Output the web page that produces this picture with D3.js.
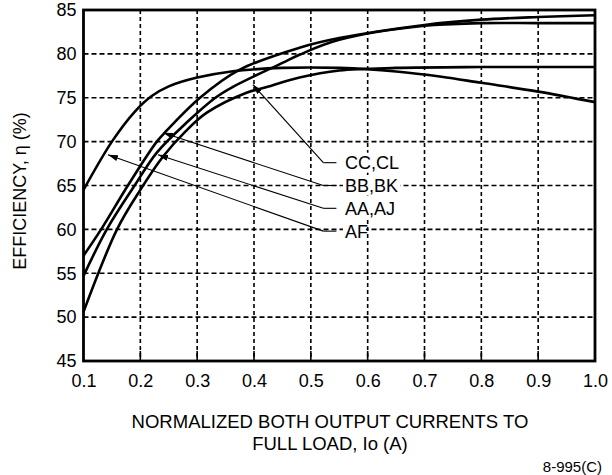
<!DOCTYPE html>
<html><head><meta charset="utf-8">
<script src="https://cdn.jsdelivr.net/npm/d3@7"></script>
<style>
html,body{margin:0;padding:0;background:#fff;}
svg{display:block;}
text{font-family:"Liberation Sans",Arial,Helvetica,sans-serif;fill:#000;}
</style></head><body>
<svg id="chart" width="612" height="475"></svg>
<script>
// ---- data ----
const xTickValues = [0.1,0.2,0.3,0.4,0.5,0.6,0.7,0.8,0.9,1.0];
const xTickLabels = ["0.1","0.2","0.3","0.4","0.5","0.6","0.7","0.8","0.9","1.0"];
const yTickValues = [45,50,55,60,65,70,75,80,85];
const yTickLabels = ["45","50","55","60","65","70","75","80","85"];

const curveAF = [[0.1,64.5],[0.15,70],[0.19,73.4],[0.22,75.2],[0.25,76.3],[0.3,77.3],[0.36,78],[0.45,78.4],[0.55,78.4],[0.65,78.0],[0.73,77.4],[0.8,76.7],[0.9,75.7],[1.0,74.5]];
const curveBB = [[0.1,57],[0.131,60],[0.18,65.2],[0.229,70],[0.247,71.3],[0.305,75],[0.375,78.2],[0.48,80.7],[0.55,81.8],[0.7,83.3],[0.8,83.9],[0.9,84.2],[1.0,84.4]];
const curveAA = [[0.1,54.7],[0.141,60],[0.19,65],[0.229,68.75],[0.282,72.2],[0.332,75],[0.363,76.25],[0.451,79],[0.48,79.9],[0.55,81.6],[0.7,83.2],[0.8,83.5],[0.9,83.5],[1.0,83.5]];
const curveCC = [[0.1,50.6],[0.159,60],[0.2,64.5],[0.24,68.3],[0.28,71.2],[0.317,73.3],[0.388,75.6],[0.416,76.1],[0.48,77.3],[0.55,78.1],[0.65,78.4],[0.8,78.5],[1.0,78.5]];

const labelNames   = ["CC,CL","BB,BK","AA,AJ","AF"];
const labelLevels  = [67.6, 65.0, 62.4, 59.8];          // y value of each label
const arrowTargets = [[0.398,76.5],[0.24,71],[0.231,68.5],[0.143,68.5]];
const elbowX = 0.522, elbowEndX = 0.545, labelX = 0.56;

// ---- layout ----
const svg = d3.select("#chart");
const L = 83.5, R = 595, T = 10, B = 361;
const x = d3.scaleLinear().domain([0.1,1.0]).range([L,R]);
const y = d3.scaleLinear().domain([45,85]).range([B,T]);
const FONT = "'Liberation Sans',Arial,sans-serif";

svg.append("defs").append("marker")
  .attr("id","arr").attr("viewBox","0 0 10 6").attr("refX",10).attr("refY",3)
  .attr("markerWidth",10).attr("markerHeight",6).attr("markerUnits","userSpaceOnUse")
  .attr("orient","auto")
  .append("path").attr("d","M0,0 L10,3 L0,6 Z").attr("fill","#000");

// grid
const g = svg.append("g");
g.selectAll(".vg").data(xTickValues.slice(1,-1)).enter().append("line")
  .attr("x1",d=>x(d)).attr("x2",d=>x(d)).attr("y1",T).attr("y2",B)
  .attr("stroke","#000").attr("stroke-width",1.6).attr("stroke-dasharray","4,3");
g.selectAll(".hg").data(yTickValues.slice(1,-1)).enter().append("line")
  .attr("x1",L).attr("x2",R).attr("y1",d=>y(d)).attr("y2",d=>y(d))
  .attr("stroke","#000").attr("stroke-width",1.6).attr("stroke-dasharray","5,3");
// inner ticks at bottom
g.selectAll(".bt").data(xTickValues.slice(1,-1)).enter().append("line")
  .attr("x1",d=>x(d)).attr("x2",d=>x(d)).attr("y1",B).attr("y2",B-10)
  .attr("stroke","#000").attr("stroke-width",1.6);

// axes (labels only)
const xAxis = d3.axisBottom(x).tickValues(xTickValues).tickFormat((d,i)=>xTickLabels[i]).tickSize(0).tickPadding(13);
const ax = svg.append("g").attr("transform",`translate(0,${B})`).call(xAxis);
ax.select(".domain").remove();
ax.selectAll("text").attr("font-size",18).style("font-family",FONT);
const yAxis = d3.axisLeft(y).tickValues(yTickValues).tickFormat((d,i)=>yTickLabels[i]).tickSize(0).tickPadding(7);
const ay = svg.append("g").attr("transform",`translate(${L},0)`).call(yAxis);
ay.select(".domain").remove();
ay.selectAll("text").attr("font-size",18).style("font-family",FONT);

// curves
const line = d3.line().x(d=>x(d[0])).y(d=>y(d[1])).curve(d3.curveCatmullRom.alpha(0.5));
[curveAF,curveBB,curveAA,curveCC].forEach(c=>{
  svg.append("path").datum(c).attr("d",line).attr("fill","none")
    .attr("stroke","#000").attr("stroke-width",2.6).attr("stroke-linejoin","round");
});

// frame
svg.append("rect").attr("x",L).attr("y",T).attr("width",R-L).attr("height",B-T)
  .attr("fill","none").attr("stroke","#000").attr("stroke-width",2.8);

// leaders + labels
labelNames.forEach((name,i)=>{
  const yl = y(labelLevels[i]);
  svg.append("line").attr("x1",x(elbowX)).attr("y1",yl).attr("x2",x(arrowTargets[i][0])).attr("y2",y(arrowTargets[i][1]))
    .attr("stroke","#000").attr("stroke-width",1.1).attr("marker-end","url(#arr)");
  svg.append("line").attr("x1",x(elbowX)).attr("y1",yl).attr("x2",x(elbowEndX)).attr("y2",yl)
    .attr("stroke","#000").attr("stroke-width",1.1);
  svg.append("rect").attr("x",x(labelX)-2).attr("y",yl-10).attr("width",name.length*11.5).attr("height",20).attr("fill","#fff");
  svg.append("text").attr("x",x(labelX)).attr("y",yl).attr("dy","0.36em").attr("font-size",18).text(name);
});

// titles
svg.append("text").attr("x",330).attr("y",428).attr("text-anchor","middle").attr("font-size",18.5).text("NORMALIZED BOTH OUTPUT CURRENTS TO");
svg.append("text").attr("x",330).attr("y",450).attr("text-anchor","middle").attr("font-size",18.5).text("FULL LOAD, Io (A)");
svg.append("text").attr("transform","translate(26,191) rotate(-90)").attr("text-anchor","middle").attr("font-size",18).text("EFFICIENCY, η (%)");
svg.append("text").attr("x",602).attr("y",472).attr("text-anchor","end").attr("font-size",15).text("8-995(C)");
</script>
</body></html>
